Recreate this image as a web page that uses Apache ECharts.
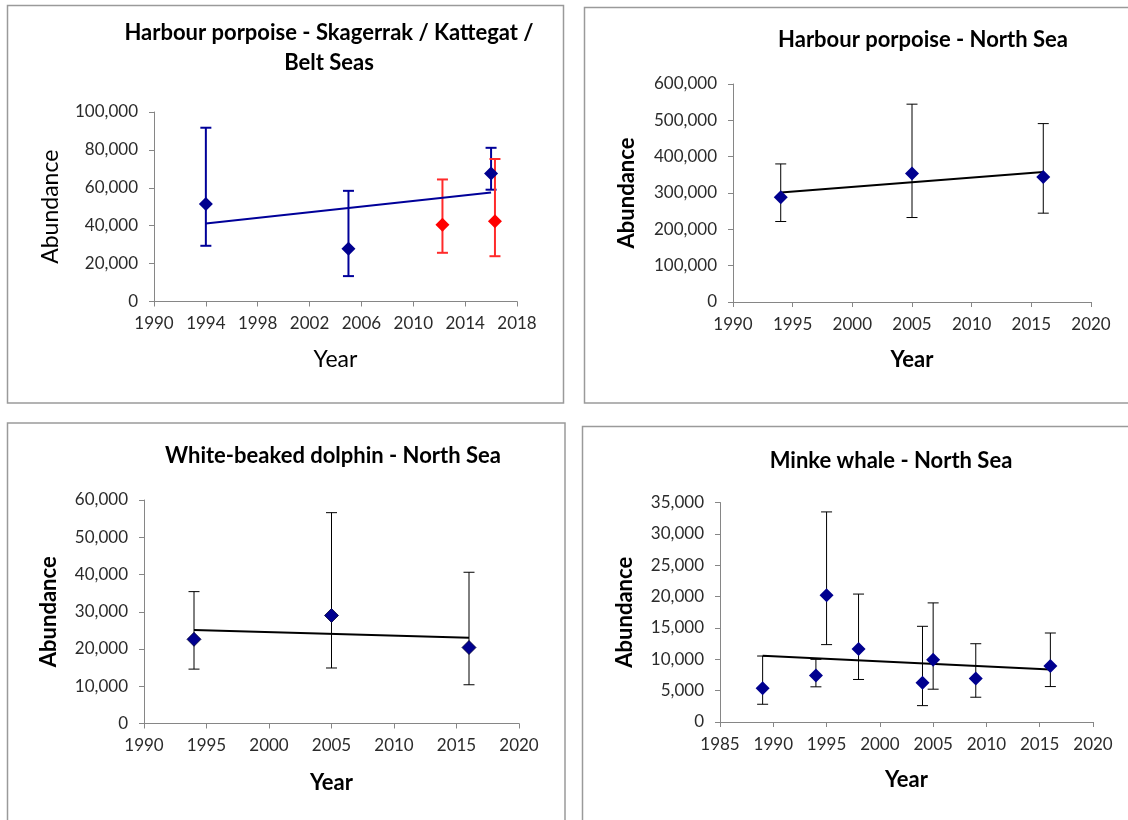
<!DOCTYPE html>
<html><head><meta charset="utf-8">
<script src="https://cdn.jsdelivr.net/npm/echarts@6/dist/echarts.min.js"></script>
<style>html,body{margin:0;padding:0;background:#fff}#c{width:1128px;height:820px}</style>
</head><body><div id="c"></div>
<script>
// ---- Panel 1: Harbour porpoise - Skagerrak / Kattegat / Belt Seas ----
var p1BlueYears = [1994, 2005, 2016];
var p1BlueValues = [51400, 27900, 67600];
var p1BlueLow = [29400, 13400, 59000];
var p1BlueHigh = [91700, 58400, 81100];
var p1RedYears = [2012.25, 2016.3];
var p1RedValues = [40500, 42400];
var p1RedLow = [25700, 23900];
var p1RedHigh = [64400, 75200];
var p1TrendYears = [1994, 2016];
var p1TrendValues = [41200, 57500];
// ---- Panel 2: Harbour porpoise - North Sea ----
var p2Years = [1994, 2005, 2016];
var p2Values = [288000, 354000, 344000];
var p2Low = [221500, 232500, 244500];
var p2High = [380000, 544500, 491000];
var p2TrendYears = [1994, 2016];
var p2TrendValues = [301500, 357500];
// ---- Panel 3: White-beaked dolphin - North Sea ----
var p3Years = [1994, 2005, 2016];
var p3Values = [22600, 29000, 20400];
var p3Low = [14600, 14900, 10400];
var p3High = [35400, 56600, 40600];
var p3TrendYears = [1994, 2016];
var p3TrendValues = [25100, 23000];
// ---- Panel 4: Minke whale - North Sea ----
var p4Years = [1989, 1994, 1995, 1998, 2004, 2005, 2009, 2016];
var p4Values = [5400, 7430, 20200, 11650, 6240, 9920, 6940, 8910];
var p4Low = [2830, 5610, 12340, 6780, 2610, 5230, 3950, 5650];
var p4High = [10520, 9990, 33500, 20400, 15260, 18990, 12480, 14190];
var p4TrendYears = [1989, 2016];
var p4TrendValues = [10580, 8380];
// ---- Text ----
var titles = ['Harbour porpoise - Skagerrak / Kattegat /\nBelt Seas', 'Harbour porpoise - North Sea', 'White-beaked dolphin - North Sea', 'Minke whale - North Sea'];
var xName = 'Year';
var yName = 'Abundance';

var FONT = 'Lato, Carlito, "Open Sans", sans-serif';
var AX = '#868686';
var NAVY = '#00008f';

function fmt(v){ return String(v).replace(/\B(?=(\d{3})+(?!\d))/g, ','); }
function plain(v){ return String(v); }

var grids = [
  {left:154, top:112, width:363, height:189.5},
  {left:733, top:84, width:358, height:218},
  {left:144, top:500, width:375, height:223.5},
  {left:720, top:502.5, width:373, height:219.5}
];
var xRanges = [[1990,2018,4],[1990,2020,5],[1990,2020,5],[1985,2020,5]];
var yRanges = [[0,100000,20000],[0,600000,100000],[0,60000,10000],[0,35000,5000]];
var yGaps = [92, 95, 84, 84];
var xGaps = [47, 47, 48, 47];

function nameStyle(i){
  return i === 0 ? {fontFamily:FONT, fontSize:23, fontWeight:'normal', color:'#000'}
                 : {fontFamily:FONT, fontSize:22, fontWeight:'bold', color:'#000'};
}

var xAxes = [], yAxes = [];
for (var i = 0; i < 4; i++) {
  xAxes.push({type:'value', gridIndex:i, min:xRanges[i][0], max:xRanges[i][1], interval:xRanges[i][2],
    axisLine:{show:true, onZero:false, lineStyle:{color:AX, width:1}},
    axisTick:{show:true, length:5, lineStyle:{color:AX}},
    axisLabel:{color:'#2b2b2b', fontSize:17, fontFamily:FONT, margin:14, formatter:plain},
    splitLine:{show:false},
    name:xName, nameLocation:'middle', nameGap:xGaps[i], nameTextStyle:nameStyle(i)});
  yAxes.push({type:'value', gridIndex:i, min:yRanges[i][0], max:yRanges[i][1], interval:yRanges[i][2],
    axisLine:{show:true, lineStyle:{color:AX, width:1}},
    axisTick:{show:true, length:5, lineStyle:{color:AX}},
    axisLabel:{color:'#2b2b2b', fontSize:17, fontFamily:FONT, margin:16, formatter:fmt},
    splitLine:{show:false},
    name:yName, nameLocation:'middle', nameGap:yGaps[i], nameRotate:90, nameTextStyle:nameStyle(i)});
}

function errSeries(gi, years, low, high, color, width){
  return {type:'custom', xAxisIndex:gi, yAxisIndex:gi, z:2, silent:true,
    data: years.map(function(y,k){ return [y, low[k], high[k]]; }),
    encode:{x:0, y:[1,2]},
    renderItem:function(params, api){
      var x = api.value(0);
      var lo = api.coord([x, api.value(1)]);
      var hi = api.coord([x, api.value(2)]);
      var cw = 5.5;
      var st = {stroke:color, lineWidth:width};
      return {type:'group', children:[
        {type:'line', shape:{x1:lo[0], y1:lo[1], x2:hi[0], y2:hi[1]}, style:st},
        {type:'line', shape:{x1:lo[0]-cw, y1:lo[1], x2:lo[0]+cw, y2:lo[1]}, style:st},
        {type:'line', shape:{x1:hi[0]-cw, y1:hi[1], x2:hi[0]+cw, y2:hi[1]}, style:st}
      ]};
    }};
}
function pts(gi, years, vals, color, border){
  return {type:'scatter', xAxisIndex:gi, yAxisIndex:gi, z:4, symbol:'diamond', symbolSize:14, silent:true,
    itemStyle:{color:color, borderColor:border || color, borderWidth:border ? 0.8 : 0, opacity:1},
    data: years.map(function(y,k){ return [y, vals[k]]; })};
}
function trend(gi, years, vals, color){
  return {type:'line', xAxisIndex:gi, yAxisIndex:gi, z:3, symbol:'none', silent:true,
    lineStyle:{color:color, width:2},
    data: years.map(function(y,k){ return [y, vals[k]]; })};
}

var series = [
  errSeries(0, p1BlueYears, p1BlueLow, p1BlueHigh, '#000099', 2),
  errSeries(0, p1RedYears, p1RedLow, p1RedHigh, '#ff2a2a', 2),
  trend(0, p1TrendYears, p1TrendValues, '#000099'),
  pts(0, p1RedYears, p1RedValues, '#ff0000'),
  pts(0, p1BlueYears, p1BlueValues, NAVY),
  errSeries(1, p2Years, p2Low, p2High, '#000', 1),
  trend(1, p2TrendYears, p2TrendValues, '#000'),
  pts(1, p2Years, p2Values, NAVY),
  errSeries(2, p3Years, p3Low, p3High, '#000', 1),
  trend(2, p3TrendYears, p3TrendValues, '#000'),
  pts(2, p3Years, p3Values, NAVY, '#000033'),
  errSeries(3, p4Years, p4Low, p4High, '#000', 1),
  trend(3, p4TrendYears, p4TrendValues, '#000'),
  pts(3, p4Years, p4Values, NAVY)
];

var frameStyle = {fill:'none', stroke:'#9a9a9a', lineWidth:1.5};
var titlePos = [[329, 18], [923, 25], [333, 441], [891, 446]];
var graphic = [
  {type:'rect', shape:{x:7.5, y:5.5, width:556, height:397.5}, style:frameStyle, silent:true},
  {type:'rect', shape:{x:584.5, y:7.5, width:600, height:395.5}, style:frameStyle, silent:true},
  {type:'rect', shape:{x:7.5, y:423, width:557.5, height:500}, style:frameStyle, silent:true},
  {type:'rect', shape:{x:582.5, y:426.5, width:600, height:500}, style:frameStyle, silent:true}
];
for (var t = 0; t < 4; t++) {
  graphic.push({type:'text', x:titlePos[t][0], y:titlePos[t][1], silent:true,
    style:{text:titles[t], font:'bold 22px ' + FONT, fill:'#000', align:'center', verticalAlign:'top', lineHeight:30}});
}

var chart = echarts.init(document.getElementById('c'), null, {renderer:'canvas'});
chart.setOption({
  animation:false,
  backgroundColor:'#fff',
  grid:grids,
  xAxis:xAxes,
  yAxis:yAxes,
  series:series,
  graphic:graphic
});
</script>
</body></html>
